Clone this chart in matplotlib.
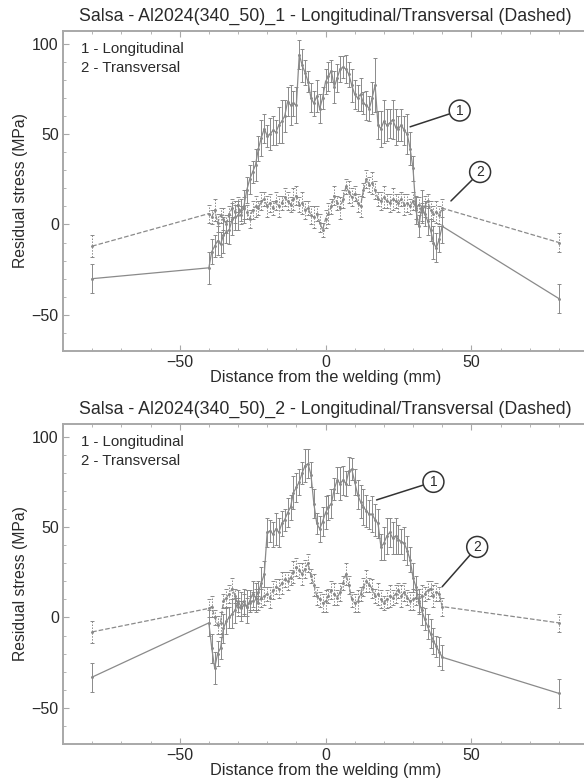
import numpy as np
import matplotlib.pyplot as plt
from matplotlib.ticker import MultipleLocator

plt.rcParams['font.family'] = ['Liberation Sans', 'DejaVu Sans']

# posições de medição (mm): extremos em +-80 e malha fina entre -40 e 40
dist = [-80] + list(range(-40, 41)) + [80]

# Painel 1 - longitudinal
long1 = [-30,
         -24, -15, -12, -9, -11, -6, -4, -3, 3, 4,
         5, 8, 10, 19, 25, 29, 33, 42, 48, 53,
         49, 50, 52, 51, 55, 57, 60, 68, 66, 67,
         66, 94, 88, 84, 79, 70, 67, 71, 64, 70,
         79, 82, 85, 76, 81, 86, 87, 86, 83, 77,
         72, 70, 72, 67, 66, 64, 70, 77, 55, 53,
         57, 55, 56, 58, 54, 53, 55, 52, 50, 42,
         31, 8, -1, 10, 6, 2, -3, -10, -13, -8,
         -1,
         -41]
long1_err = [8,
             9, 7, 6, 8, 7, 10, 6, 8, 9, 7,
             8, 6, 9, 7, 8, 6, 9, 7, 10, 8,
             6, 9, 8, 7, 10, 12, 9, 8, 11, 7,
             10, 8, 9, 7, 6, 8, 7, 9, 8, 6,
             7, 8, 6, 9, 8, 7, 6, 8, 7, 9,
             8, 7, 9, 6, 8, 7, 9, 15, 8, 10,
             12, 9, 8, 11, 10, 7, 9, 8, 11, 9,
             7, 8, 6, 9, 7, 8, 6, 9, 8, 7,
             9,
             8]

# Painel 1 - transversal
trans1 = [-12,
          6, 4, 8, 1, 5, 3, 0, 6, 9, 7,
          11, 5, 9, 7, 3, 8, 10, 9, 13, 14,
          10, 12, 9, 13, 10, 12, 15, 13, 11, 14,
          16, 11, 12, 8, 9, 5, 4, 6, 1, -3,
          3, 6, 10, 16, 12, 9, 14, 21, 18, 15,
          17, 12, 10, 19, 25, 22, 23, 19, 14, 13,
          15, 13, 12, 14, 13, 12, 14, 11, 12, 10,
          13, 9, 11, 7, 10, 13, 8, 6, 7, 5,
          9,
          -10]
trans1_err = [6,
              5, 4, 6, 5, 4, 6, 5, 4, 5, 6,
              4, 5, 6, 4, 5, 5, 6, 4, 5, 4,
              6, 5, 4, 5, 6, 4, 5, 5, 4, 6,
              5, 4, 6, 5, 4, 5, 6, 4, 5, 4,
              5, 6, 4, 5, 4, 6, 5, 4, 6, 5,
              4, 5, 6, 4, 5, 4, 6, 5, 4, 5,
              6, 4, 5, 6, 4, 5, 4, 6, 5, 4,
              5, 6, 4, 5, 6, 4, 5, 4, 6, 5,
              5,
              5]

# Painel 2 - longitudinal
long2 = [-33,
         -3, -17, -28, -20, -17, -6, -2, 0, 2, 4,
         9, 6, 9, 6, 9, 13, 11, 14, 19, 24,
         47, 48, 46, 49, 47, 52, 54, 58, 61, 69,
         72, 75, 80, 84, 85, 79, 63, 52, 49, 53,
         58, 61, 63, 71, 76, 74, 76, 74, 81, 82,
         75, 68, 64, 61, 59, 57, 57, 54, 52, 39,
         41, 45, 47, 44, 45, 43, 42, 41, 37, 32,
         22, 17, 9, 4, -1, -5, -9, -13, -16, -19,
         -22,
         -42]
long2_err = [8,
             7, 8, 9, 7, 6, 8, 7, 6, 8, 7,
             6, 8, 7, 9, 6, 7, 8, 6, 9, 7,
             8, 6, 7, 9, 8, 7, 6, 8, 7, 9,
             8, 7, 6, 9, 8, 7, 8, 6, 7, 8,
             9, 7, 8, 6, 7, 9, 8, 7, 8, 6,
             7, 8, 9, 10, 9, 8, 10, 9, 8, 7,
             9, 10, 8, 9, 10, 8, 7, 9, 8, 7,
             8, 6, 7, 8, 6, 7, 8, 7, 6, 8,
             7,
             8]

# Painel 2 - transversal
trans2 = [-8,
          5, 6, 0, -4, -3, 9, 11, 13, 16, 12,
          6, 5, 7, 6, 8, 9, 10, 8, 11, 12,
          13, 11, 15, 17, 16, 19, 21, 20, 22, 25,
          28, 26, 24, 27, 30, 23, 18, 12, 10, 8,
          9, 12, 15, 13, 11, 14, 19, 24, 18, 10,
          8, 9, 13, 17, 20, 18, 16, 12, 13, 10,
          8, 10, 12, 11, 13, 15, 12, 14, 11, 9,
          10, 11, 8, 12, 13, 15, 16, 12, 14, 13,
          6,
          -3]
trans2_err = [6,
              5, 6, 4, 5, 6, 4, 5, 5, 6, 4,
              5, 4, 6, 5, 4, 5, 6, 4, 5, 5,
              4, 6, 5, 4, 5, 6, 4, 5, 4, 6,
              5, 4, 6, 5, 5, 4, 6, 5, 4, 5,
              6, 4, 5, 6, 4, 5, 4, 6, 5, 4,
              5, 6, 4, 5, 6, 4, 5, 4, 6, 5,
              4, 5, 6, 4, 5, 4, 6, 5, 4, 5,
              6, 4, 5, 6, 4, 5, 4, 6, 5, 4,
              5,
              5]

titles = ["Salsa - Al2024(340_50)_1 - Longitudinal/Transversal (Dashed)",
          "Salsa - Al2024(340_50)_2 - Longitudinal/Transversal (Dashed)"]

LINE = '#8a8a8a'
AXC = '#a8a8a8'
TXT = '#2a2a2a'


def painel(ax, title, lon, lon_err, tra, tra_err, lab1, lab2):
    ax.errorbar(dist, lon, yerr=lon_err, color=LINE, lw=0.9,
                elinewidth=0.7, capsize=1.5, capthick=0.7, marker='.', ms=2.2)
    eb2 = ax.errorbar(dist, tra, yerr=tra_err, color=LINE, lw=0.9, ls='--',
                      elinewidth=0.7, capsize=1.5, capthick=0.7, marker='.', ms=2.2)
    eb2[2][0].set_linestyle((0, (1.5, 1.5)))

    ax.set_xlim(-90, 90)
    ax.set_ylim(-70, 107)
    ax.xaxis.set_major_locator(MultipleLocator(50))
    ax.xaxis.set_minor_locator(MultipleLocator(10))
    ax.yaxis.set_major_locator(MultipleLocator(50))
    ax.yaxis.set_minor_locator(MultipleLocator(10))
    ax.tick_params(which='both', direction='in', color=AXC, top=True,
                   labelsize=11.5, labelcolor=TXT, pad=3)
    ax.tick_params(which='major', length=4)
    ax.tick_params(which='minor', length=2)
    for s in ['left', 'bottom', 'top']:
        ax.spines[s].set_color(AXC)
        ax.spines[s].set_linewidth(1.4)
    ax.spines['right'].set_visible(False)

    ax.set_title(title, fontsize=12.8, color=TXT, pad=7)
    ax.set_xlabel("Distance from the welding (mm)", fontsize=11.8, color=TXT, labelpad=0)
    ax.set_ylabel("Residual stress (MPa)", fontsize=11.3, color=TXT, labelpad=3)

    ax.text(0.034, 0.945, "1 - Longitudinal", transform=ax.transAxes,
            fontsize=10.8, color=TXT, va='center')
    ax.text(0.034, 0.883, "2 - Transversal", transform=ax.transAxes,
            fontsize=10.8, color=TXT, va='center')

    for num, (tx, ty, px, py) in (("1", lab1), ("2", lab2)):
        ax.annotate(num, xy=(px, py), xytext=(tx, ty), ha='center', va='center',
                    fontsize=10, color=TXT,
                    bbox=dict(boxstyle='circle,pad=0.25', fc='white', ec='#333333', lw=1.1),
                    arrowprops=dict(arrowstyle='-', color='#333333', lw=1.1,
                                    shrinkA=0, shrinkB=0))


fig = plt.figure(figsize=(5.84, 7.81), dpi=100)
ax1 = fig.add_axes([0.1079, 0.5506, 0.899, 0.4097])
ax2 = fig.add_axes([0.1079, 0.0474, 0.899, 0.4097])

painel(ax1, titles[0], long1, long1_err, trans1, trans1_err,
       (46, 63, 29, 54), (53, 29, 43, 13))
painel(ax2, titles[1], long2, long2_err, trans2, trans2_err,
       (37, 75, 17.5, 65), (52, 39, 40, 17))

fig.savefig('out.png', dpi=100)
